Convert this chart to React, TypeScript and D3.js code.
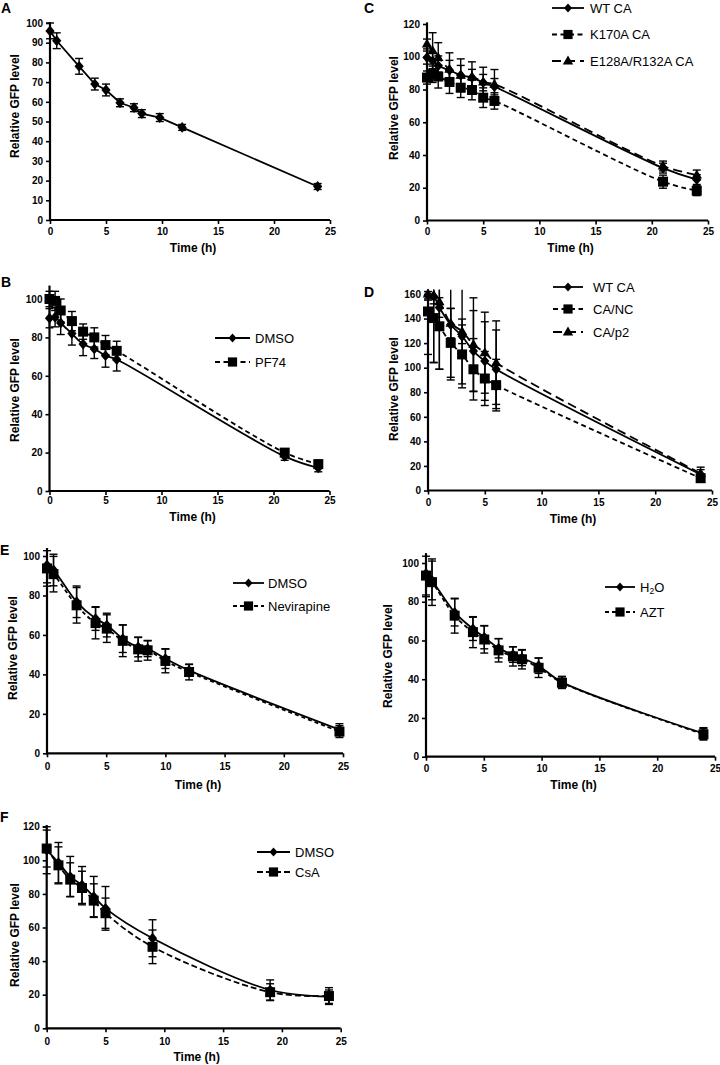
import React, { useEffect, useRef } from "react";
import * as d3 from "d3";

// ---------- Data ----------
// Panel A
const timeA = [0, 0.6, 2.6, 4, 5, 6.25, 7.5, 8.2, 9.8, 11.8, 23.9];
const gfpA = [96, 91, 78, 69, 66, 59.5, 57, 54, 52, 47, 17];
const errA = [4, 4, 4, 3, 3, 2, 2, 2, 2, 1.5, 1.5];

// Panel B
const timeB = [0, 0.5, 1, 2, 3, 4, 5, 6, 21, 24];
const dmsoB = [90, 90.5, 87.5, 82, 76.5, 74, 70.5, 68.5, 18, 12];
const errDmsoB = [5, 5, 6, 6, 6, 5, 6, 6, 2, 2];
const pf74B = [100, 99, 94, 88.5, 83, 80, 76, 73, 20, 14];
const errPf74B = [4, 5, 6, 5, 4, 5, 5, 5, 2, 2];

// Panel C
const timeC = [0, 0.5, 1, 2, 3, 4, 5, 6, 21, 24];
const wtC = [99.5, 97.5, 94.5, 91.8, 88.7, 87.3, 84.2, 81.7, 32, 25];
const errWtC = [4, 5, 6, 6, 6, 5, 5, 5, 3, 3];
const k170aC = [87.3, 89.3, 87.9, 84.6, 81.1, 79.7, 75, 73, 23.7, 18.2];
const errK170aC = [4, 5, 7, 7, 6, 6, 6, 5, 4, 3];
const e128aC = [107.8, 103.7, 99.6, 92.4, 88.7, 87.9, 84.6, 83.2, 33.3, 27.8];
const errE128aC = [3, 11, 9, 10, 10, 9, 9, 9, 3, 3];

// Panel D
const timeD = [0, 0.5, 1, 2, 3, 4, 5, 6, 24];
const wtD = [159, 158, 149, 135, 125.6, 113.5, 105.4, 98.7, 13];
const errWtD = [3, 6, 8, 45, 42, 33, 32, 32, 4];
const ncD = [145.8, 140.4, 133.7, 120.2, 110.8, 98.7, 91.2, 85.8, 10];
const errNcD = [35, 36, 35, 28, 24, 25, 22, 21, 3];
const p2D = [160, 159, 153.8, 136.3, 129.6, 118.9, 112.2, 104.1, 14];
const errP2D = [5, 55, 55, 12, 10, 38, 33, 34, 5];

// Panel E (left)
const timeEL = [0, 0.55, 2.5, 4.1, 5.05, 6.4, 7.7, 8.5, 10, 12, 24.7];
const dmsoEL = [95.4, 92.9, 76.8, 68.3, 65, 58.1, 53.9, 53, 48, 42, 12];
const errDmsoEL = [9, 8, 8, 6, 6, 7, 5, 4, 5, 3, 3];
const nevEL = [93.7, 90.8, 75, 66, 63.2, 57, 52.7, 52.2, 46.8, 41.2, 11];
const errNevEL = [9, 9, 9, 8, 7, 8, 6, 5, 6, 4, 3];

// Panel E (right)
const timeER = [0, 0.52, 2.48, 4.06, 5.04, 6.28, 7.52, 8.3, 9.74, 11.76, 24];
const h2oER = [94.6, 91, 74.5, 66, 61.7, 56, 52.7, 51, 47, 38.5, 12];
const errH2oER = [12, 10, 7, 6, 6, 5, 4, 4, 4, 3, 3];
const aztER = [93.5, 90.1, 72.8, 64.3, 60.5, 54.9, 51.8, 50.3, 45.9, 38.2, 11.6];
const errAztER = [10, 12, 9, 8, 7, 6, 5, 5, 5, 3, 3];

// Panel F
const timeF = [0, 1, 2, 3, 4, 5, 9, 19, 24];
const dmsoF = [106, 98.6, 90.3, 85.3, 78.4, 71.4, 53.6, 22.8, 18.8];
const errDmsoF = [14, 12, 12, 11, 12, 13, 11, 6, 4];
const csaF = [107, 97, 88.5, 83.5, 76, 68.5, 48.5, 21.5, 19.2];
const errCsaF = [11, 11, 10, 10, 10, 9, 10, 5, 5];

const xTicks = [0, 5, 10, 15, 20, 25];
const yTicksA = [0, 10, 20, 30, 40, 50, 60, 70, 80, 90, 100];
const yTicks100 = [0, 20, 40, 60, 80, 100];
const yTicks120 = [0, 20, 40, 60, 80, 100, 120];
const yTicks160 = [0, 20, 40, 60, 80, 100, 120, 140, 160];

const xTitle = "Time (h)";
const yTitle = "Relative GFP level";

// ---------- Types ----------
type Marker = "diamond" | "square" | "triangle";
type Series = {
  name: string;
  t: number[];
  v: number[];
  e: number[];
  marker: Marker;
  dash: string | null;
};
type Panel = {
  letter: string;
  letterX: number;
  letterY: number;
  x0: number;
  x1: number;
  y0: number;
  yRefVal: number;
  yRefPx: number;
  yTop: number;
  yTicks: number[];
  tickY: number;
  titleY: number;
  yTitleX: number;
  yTitleY: number;
  smooth: boolean;
  series: Series[];
  legend: { lx: number; len: number; tx: number; ys: number[] } | null;
};

const FONT = "'Liberation Sans', Arial, Helvetica, sans-serif";

const panels: Panel[] = [
  {
    letter: "A", letterX: 1, letterY: 13,
    x0: 50, x1: 330, y0: 220, yRefVal: 100, yRefPx: 23, yTop: 100.5,
    yTicks: yTicksA, tickY: 232, titleY: 248, yTitleX: 15, yTitleY: 106, smooth: false,
    series: [{ name: "", t: timeA, v: gfpA, e: errA, marker: "diamond", dash: null }],
    legend: null,
  },
  {
    letter: "B", letterX: 1, letterY: 287,
    x0: 49.5, x1: 329.5, y0: 491, yRefVal: 100, yRefPx: 299, yTop: 107,
    yTicks: yTicks100, tickY: 501, titleY: 517, yTitleX: 15, yTitleY: 390, smooth: true,
    series: [
      { name: "DMSO", t: timeB, v: dmsoB, e: errDmsoB, marker: "diamond", dash: null },
      { name: "PF74", t: timeB, v: pf74B, e: errPf74B, marker: "square", dash: "5,3.5" },
    ],
    legend: { lx: 215, len: 35, tx: 255, ys: [338, 362] },
  },
  {
    letter: "C", letterX: 364, letterY: 13,
    x0: 427, x1: 708, y0: 220.5, yRefVal: 120, yRefPx: 24, yTop: 121,
    yTicks: yTicks120, tickY: 232, titleY: 248, yTitleX: 394, yTitleY: 108, smooth: true,
    series: [
      { name: "WT CA", t: timeC, v: wtC, e: errWtC, marker: "diamond", dash: null },
      { name: "K170A CA", t: timeC, v: k170aC, e: errK170aC, marker: "square", dash: "5,3.5" },
      { name: "E128A/R132A CA", t: timeC, v: e128aC, e: errE128aC, marker: "triangle", dash: "9,5" },
    ],
    legend: { lx: 552, len: 32, tx: 590, ys: [8, 34.5, 61] },
  },
  {
    letter: "D", letterX: 364, letterY: 297,
    x0: 428, x1: 712, y0: 490.5, yRefVal: 160, yRefPx: 294, yTop: 163.5,
    yTicks: yTicks160, tickY: 503, titleY: 519, yTitleX: 394, yTitleY: 389, smooth: true,
    series: [
      { name: "WT CA", t: timeD, v: wtD, e: errWtD, marker: "diamond", dash: null },
      { name: "CA/NC", t: timeD, v: ncD, e: errNcD, marker: "square", dash: "5,3.5" },
      { name: "CA/p2", t: timeD, v: p2D, e: errP2D, marker: "triangle", dash: "9,5" },
    ],
    legend: { lx: 553, len: 30, tx: 593, ys: [287, 309, 332] },
  },
  {
    letter: "E", letterX: 0, letterY: 555,
    x0: 47, x1: 343, y0: 753.3, yRefVal: 100, yRefPx: 556, yTop: 104,
    yTicks: yTicks100, tickY: 767, titleY: 785, yTitleX: 13, yTitleY: 648, smooth: true,
    series: [
      { name: "DMSO", t: timeEL, v: dmsoEL, e: errDmsoEL, marker: "diamond", dash: null },
      { name: "Nevirapine", t: timeEL, v: nevEL, e: errNevEL, marker: "square", dash: "4,3" },
    ],
    legend: { lx: 233, len: 31, tx: 268, ys: [583, 606] },
  },
  {
    letter: "", letterX: 0, letterY: 0,
    x0: 426, x1: 715, y0: 756.7, yRefVal: 100, yRefPx: 563, yTop: 105,
    yTicks: yTicks100, tickY: 769, titleY: 785, yTitleX: 388, yTitleY: 656, smooth: true,
    series: [
      { name: "H2O", t: timeER, v: h2oER, e: errH2oER, marker: "diamond", dash: null },
      { name: "AZT", t: timeER, v: aztER, e: errAztER, marker: "square", dash: "4,3" },
    ],
    legend: { lx: 605, len: 30, tx: 640, ys: [587, 612] },
  },
  {
    letter: "F", letterX: 0, letterY: 822,
    x0: 46.7, x1: 340.7, y0: 1028.3, yRefVal: 120, yRefPx: 826.7, yTop: 121,
    yTicks: yTicks120, tickY: 1041.7, titleY: 1057, yTitleX: 15, yTitleY: 935, smooth: true,
    series: [
      { name: "DMSO", t: timeF, v: dmsoF, e: errDmsoF, marker: "diamond", dash: null },
      { name: "CsA", t: timeF, v: csaF, e: errCsaF, marker: "square", dash: "6,3" },
    ],
    legend: { lx: 257, len: 33, tx: 295, ys: [852, 872] },
  },
];

function markerPath(m: Marker, cx: number, cy: number, legend = false): string {
  if (m === "diamond") {
    const w = legend ? 4 : 4.6, h = legend ? 4.6 : 5.4;
    return `M${cx},${cy - h}L${cx + w},${cy}L${cx},${cy + h}L${cx - w},${cy}Z`;
  }
  if (m === "square") {
    const s = legend ? 4.6 : 5;
    return `M${cx - s},${cy - s}H${cx + s}V${cy + s}H${cx - s}Z`;
  }
  const w = 5.2, h = 9;
  return `M${cx},${cy - h * 0.6}L${cx + w},${cy + h * 0.4}L${cx - w},${cy + h * 0.4}Z`;
}

function drawPanel(root: d3.Selection<SVGGElement, unknown, null, undefined>, p: Panel) {
  const g = root.append("g");
  const x = d3.scaleLinear().domain([0, 25]).range([p.x0, p.x1]);
  const y = d3.scaleLinear().domain([0, p.yRefVal]).range([p.y0, p.yRefPx]);

  // Y axis
  const yAxis = d3.axisLeft(y).tickValues(p.yTicks).tickSize(4).tickSizeOuter(0).tickPadding(3);
  const gy = g.append("g").attr("transform", `translate(${p.x0},0)`).call(yAxis);
  gy.select(".domain").remove();
  gy.selectAll("line").attr("stroke", "#000").attr("stroke-width", 1.6);
  gy.selectAll("text")
    .attr("font-family", FONT)
    .attr("font-size", 10)
    .attr("font-weight", "bold")
    .attr("fill", "#000");
  g.append("line")
    .attr("x1", p.x0).attr("x2", p.x0)
    .attr("y1", y(0) + 1).attr("y2", y(p.yTop))
    .attr("stroke", "#000").attr("stroke-width", 2.2);

  // X axis
  const pad = p.tickY - p.y0 - 8;
  const xAxis = d3.axisBottom(x).tickValues(xTicks).tickSize(4).tickSizeOuter(0).tickPadding(pad);
  const gx = g.append("g").attr("transform", `translate(0,${p.y0})`).call(xAxis);
  gx.select(".domain").remove();
  gx.selectAll("line").attr("stroke", "#000").attr("stroke-width", 1.6);
  gx.selectAll("text")
    .attr("font-family", FONT)
    .attr("font-size", 10)
    .attr("font-weight", "bold")
    .attr("fill", "#000");
  g.append("line")
    .attr("x1", p.x0 - 1).attr("x2", x(25))
    .attr("y1", p.y0).attr("y2", p.y0)
    .attr("stroke", "#000").attr("stroke-width", 2.2);

  // Titles
  g.append("text")
    .attr("x", (p.x0 + p.x1) / 2 + 3)
    .attr("y", p.titleY + 4.3)
    .attr("text-anchor", "middle")
    .attr("font-family", FONT).attr("font-size", 12).attr("font-weight", "bold")
    .text(xTitle);
  g.append("text")
    .attr("transform", `translate(${p.yTitleX + 4.3},${p.yTitleY}) rotate(-90)`)
    .attr("text-anchor", "middle")
    .attr("font-family", FONT).attr("font-size", 12).attr("font-weight", "bold")
    .text(yTitle);
  if (p.letter) {
    g.append("text")
      .attr("x", p.letterX).attr("y", p.letterY)
      .attr("font-family", FONT).attr("font-size", 14).attr("font-weight", "bold")
      .text(p.letter);
  }

  const curve = p.smooth ? d3.curveCatmullRom.alpha(0.5) : d3.curveLinear;

  // Series
  p.series.forEach((s) => {
    const pts = s.t.map((t, i) => ({ t, v: s.v[i], e: s.e[i] }));
    const eg = g.append("g");
    pts.forEach((d) => {
      const cx = x(d.t);
      const clipped = d.v + d.e > p.yTop;
      const top = y(Math.min(d.v + d.e, p.yTop));
      const bot = y(Math.max(0, d.v - d.e));
      eg.append("line").attr("x1", cx).attr("x2", cx).attr("y1", top).attr("y2", bot)
        .attr("stroke", "#000").attr("stroke-width", 1.4);
      const caps = clipped ? [bot] : [top, bot];
      caps.forEach((yy) =>
        eg.append("line").attr("x1", cx - 4).attr("x2", cx + 4).attr("y1", yy).attr("y2", yy)
          .attr("stroke", "#000").attr("stroke-width", 1.4)
      );
    });
    const line = d3.line<{ t: number; v: number }>()
      .x((d) => x(d.t)).y((d) => y(d.v)).curve(curve);
    g.append("path")
      .attr("d", line(pts) || "")
      .attr("fill", "none")
      .attr("stroke", "#000")
      .attr("stroke-width", 1.8)
      .attr("stroke-dasharray", s.dash || null);
    g.append("g").selectAll("path").data(pts).join("path")
      .attr("d", (d) => markerPath(s.marker, x(d.t), y(d.v)))
      .attr("fill", "#000");
  });

  // Legend
  if (p.legend) {
    const L = p.legend;
    p.series.forEach((s, i) => {
      const ly = L.ys[i];
      g.append("line")
        .attr("x1", L.lx).attr("x2", L.lx + L.len)
        .attr("y1", ly).attr("y2", ly)
        .attr("stroke", "#000").attr("stroke-width", 1.8)
        .attr("stroke-dasharray", s.dash || null);
      g.append("path").attr("d", markerPath(s.marker, L.lx + L.len / 2, ly, true)).attr("fill", "#000");
      const t = g.append("text")
        .attr("x", L.tx).attr("y", ly + 4.6)
        .attr("font-family", FONT).attr("font-size", 13);
      if (s.name === "H2O") {
        t.append("tspan").text("H");
        t.append("tspan").attr("font-size", 8.5).attr("dy", 2).text("2");
        t.append("tspan").attr("dy", -2).text("O");
      } else {
        t.text(s.name);
      }
    });
  }
}

export default function App() {
  const ref = useRef<SVGSVGElement | null>(null);
  useEffect(() => {
    if (!ref.current) return;
    const svg = d3.select(ref.current);
    svg.selectAll("*").remove();
    const root = svg.append("g");
    panels.forEach((p) => drawPanel(root as any, p));
  }, []);
  return (
    <svg
      ref={ref}
      width={720}
      height={1065}
      viewBox="0 0 720 1065"
      style={{ position: "absolute", left: 0, top: 0, background: "#fff" }}
    />
  );
}
